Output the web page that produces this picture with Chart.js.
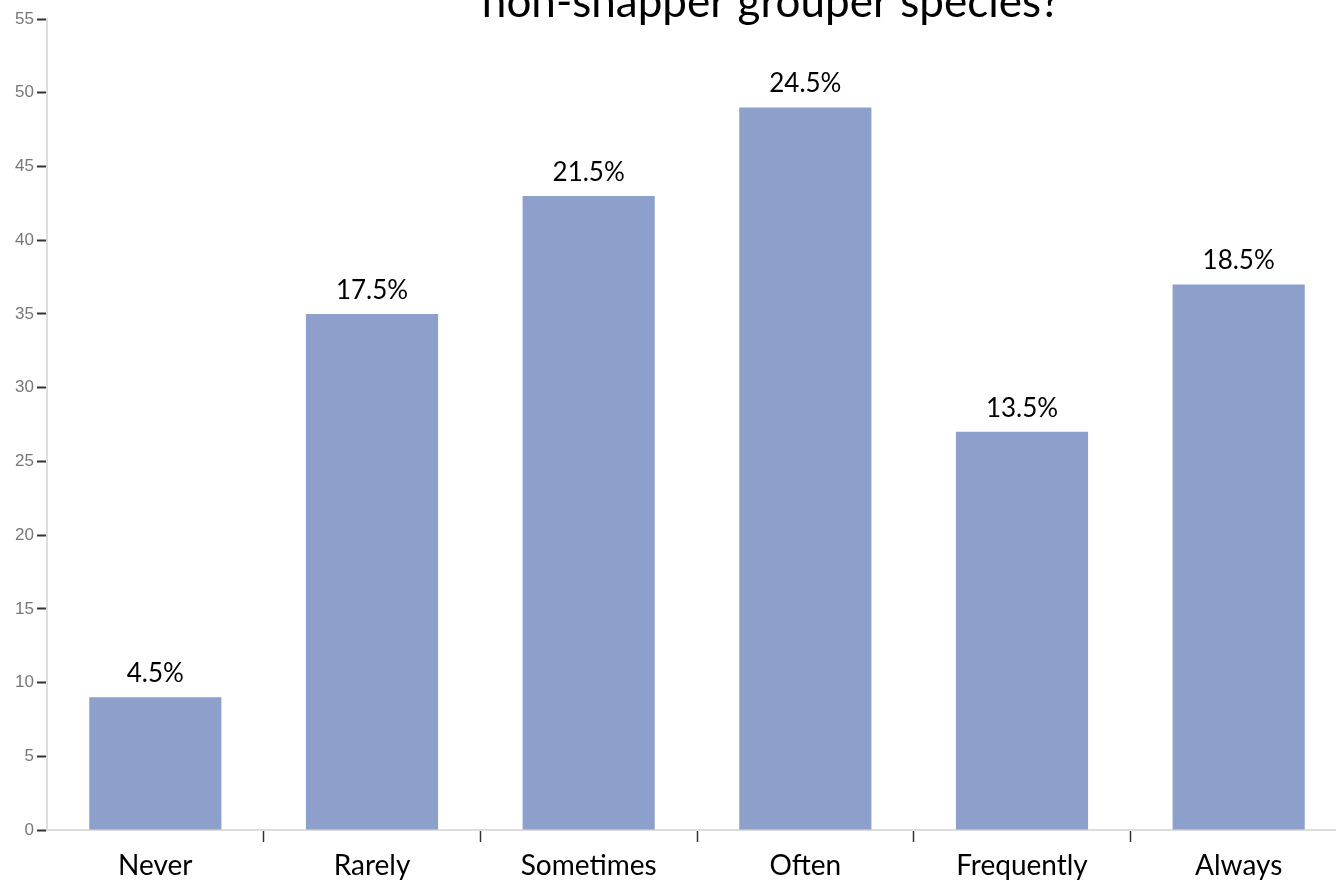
<!DOCTYPE html>
<html>
<head>
<meta charset="utf-8">
<style>
  html, body { margin: 0; padding: 0; overflow: hidden; background: #fff; }
  #wrap { width: 1347px; height: 881px; }
</style>
</head>
<body>
<div id="wrap">
  <canvas id="myChart" width="1347" height="881"></canvas>
</div>

<script src="https://cdn.jsdelivr.net/npm/chart.js"></script>
<script>
  const categories = ['Never', 'Rarely', 'Sometimes', 'Often', 'Frequently', 'Always'];
  const counts = [9, 35, 43, 49, 27, 37];
  const percentLabels = ['4.5%', '17.5%', '21.5%', '24.5%', '13.5%', '18.5%'];
  const titleText = 'non-snapper grouper species?';

  const FONT = 'Lato, "Open Sans", sans-serif';

  // percentage text above each bar
  const barLabels = {
    id: 'barLabels',
    afterDatasetsDraw(chart) {
      const c = chart.ctx;
      const meta = chart.getDatasetMeta(0);
      c.save();
      c.fillStyle = '#000';
      c.font = '26px ' + FONT;
      c.textAlign = 'center';
      c.textBaseline = 'alphabetic';
      meta.data.forEach((bar, i) => {
        c.fillText(percentLabels[i], bar.x, bar.y - 15);
      });
      c.restore();
    }
  };

  // title, second line only (top of it is off the page)
  const topTitle = {
    id: 'topTitle',
    afterDraw(chart) {
      const c = chart.ctx;
      c.save();
      c.fillStyle = '#000';
      c.font = '44px ' + FONT;
      c.textAlign = 'center';
      c.textBaseline = 'alphabetic';
      c.fillText(titleText, 771, 17);
      c.restore();
    }
  };

  const ctx = document.getElementById('myChart');
  const myChart = new Chart(ctx, {
    type: 'bar',
    data: {
      labels: categories,
      datasets: [{
        data: counts,
        backgroundColor: '#8da0cb',
        borderWidth: 0,
        categoryPercentage: 0.61,
        barPercentage: 1.0
      }]
    },
    options: {
      responsive: false,
      animation: false,
      layout: { padding: { top: 19, right: 0, left: 0, bottom: 0 } },
      plugins: {
        legend: { display: false },
        tooltip: { enabled: false }
      },
      scales: {
        x: {
          afterFit(scale) { scale.height = 51; },
          grid: {
            offset: true,
            drawOnChartArea: false,
            tickLength: 12,
            tickColor: (c) => c.index === 0 ? 'rgba(0,0,0,0)' : '#333',
            tickWidth: 1.5
          },
          border: { color: '#ddd', width: 2 },
          ticks: {
            color: '#000',
            padding: 7,
            font: { family: FONT, size: 28 }
          }
        },
        y: {
          min: 0,
          max: 55,
          afterFit(scale) { scale.width = 47; },
          grid: {
            drawOnChartArea: false,
            tickLength: 10,
            tickColor: '#333',
            tickWidth: 2
          },
          border: { color: '#ddd', width: 2 },
          ticks: {
            stepSize: 5,
            color: '#777',
            padding: 3,
            font: { family: 'Liberation Sans, Arial, sans-serif', size: 17 }
          }
        }
      }
    },
    plugins: [barLabels, topTitle]
  });
</script>
</body>
</html>
